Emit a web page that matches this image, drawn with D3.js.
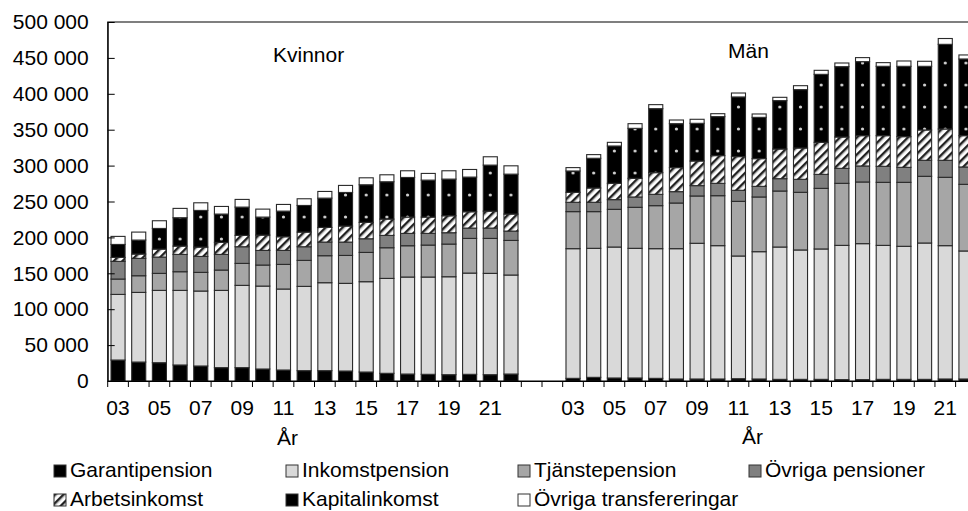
<!DOCTYPE html>
<html>
<head>
<meta charset="utf-8">
<script src="https://cdn.jsdelivr.net/npm/d3@7"></script>
<style>
body { margin: 0; background: #fff; }
text { font-family: "Liberation Sans", Arial, sans-serif; fill: #000; }
</style>
</head>
<body>
<script>

var width = 968,
    height = 511;

var years = ["03","04","05","06","07","08","09","10","11","12","13","14","15","16","17","18","19","20","21","22"];
var labelYears = ["03","05","07","09","11","13","15","17","19","21"];
var seriesNames = ["Garantipension","Inkomstpension","Tjänstepension","Övriga pensioner","Arbetsinkomst","Kapitalinkomst","Övriga transfereringar"];
var yTicks = [0,50000,100000,150000,200000,250000,300000,350000,400000,450000,500000];

// Kvinnor
var garantiK   = [29200,26400,25500,22300,20900,18600,18600,16700,15300,14400,14400,13900,12500,10700,9700,9300,8800,9300,8800,9700];
var inkomstK   = [91400,97000,100700,103900,104400,107600,114600,115500,112800,117400,122500,122100,125800,132200,135100,135500,136400,141000,141100,137900];
var tjanstK    = [21400,23200,23700,26000,26000,28300,30600,29300,34300,36200,37600,38900,40800,42700,43600,44500,45500,48300,48700,48200];
var ovrPensK   = [24600,24200,22700,24100,22200,21800,23200,20400,19500,19000,19000,18600,19000,17200,17200,16300,15800,14400,14400,13000];
var arbetK     = [5500,6000,11100,11600,13000,16700,15800,21300,19000,20400,20400,22300,22800,22700,22700,22700,23600,22700,23600,23700];
var kapitalK   = [18100,19500,28800,39500,51100,39500,39400,25100,35700,37100,40800,46800,52400,52000,55200,51500,51100,48300,64100,55600];
var ovrTransK  = [11200,11100,10700,13000,10600,10600,10700,11100,9300,9300,9300,9800,9700,9700,9300,9300,11600,10600,11600,11600];

// Män
var garantiM   = [3700,5100,4200,4200,3700,2800,2800,2800,3200,2800,2300,2300,2300,1900,1900,2300,2300,2300,2800,2800];
var inkomstM   = [180600,179700,182400,180600,180600,181500,189000,185700,170900,177300,184300,180200,181600,187000,189400,186600,185300,189900,185700,178300];
var tjanstM    = [51600,51100,52500,57100,59900,63600,65900,69600,76100,76200,78000,80300,84400,86400,85900,87800,89100,92900,95200,92800];
var ovrPensM   = [13000,13000,13500,14400,15800,15800,14400,17200,15400,14800,17200,18100,19500,20900,22300,22300,20900,22300,23700,24200];
var arbetM     = [13900,19900,22700,26000,30200,33500,34300,38600,46900,38600,41300,43600,44600,43600,42200,42700,42700,42200,43600,43600];
var kapitalM   = [29700,41400,52000,69600,89100,61200,52500,54300,83100,57500,67400,81300,94700,98000,103100,96600,98000,88700,117900,106800];
var ovrTransM  = [4700,5100,5100,6500,5600,5100,5600,4100,5500,4700,4600,5500,5600,5100,5600,5100,7400,7000,8100,5600];

var seriesK = [garantiK, inkomstK, tjanstK, ovrPensK, arbetK, kapitalK, ovrTransK];
var seriesM = [garantiM, inkomstM, tjanstM, ovrPensM, arbetM, kapitalM, ovrTransM];
var keys = ["s0","s1","s2","s3","s4","s5","s6"];
var fills = ["#000000","#d9d9d9","#a6a6a6","#808080","url(#hatch)","url(#dots)","#ffffff"];

// rows: 20 women, 2 empty slots, 20 men
var rows = [];
years.forEach(function(yr, i) {
  var r = {cat: "K" + yr, label: yr};
  keys.forEach(function(k, j) { r[k] = seriesK[j][i]; });
  rows.push(r);
});
rows.push({cat: "gap1", label: ""});
rows.push({cat: "gap2", label: ""});
years.forEach(function(yr, i) {
  var r = {cat: "M" + yr, label: yr};
  keys.forEach(function(k, j) { r[k] = seriesM[j][i]; });
  rows.push(r);
});
var barRows = rows.filter(function(d) { return d.cat.indexOf("gap") !== 0; });

var plotLeft = 107.7, plotRight = 976.3, plotTop = 22, plotBottom = 381;

var x = d3.scaleBand()
  .domain(rows.map(function(d) { return d.cat; }))
  .range([plotLeft, plotRight])
  .paddingInner(0.32)
  .paddingOuter(0.16);

var y = d3.scaleLinear()
  .domain([0, 500000])
  .range([plotBottom, plotTop]);

var svg = d3.select("body").append("svg")
    .attr("width", width)
    .attr("height", height)
    .style("background", "#fff");

var defs = svg.append("defs");

// diagonal stripes for Arbetsinkomst
var hatch = defs.append("pattern")
  .attr("id", "hatch")
  .attr("patternUnits", "userSpaceOnUse")
  .attr("width", 6)
  .attr("height", 6)
  .attr("patternTransform", "rotate(45)");
hatch.append("rect").attr("width", 6).attr("height", 6).attr("fill", "#fff");
hatch.append("rect").attr("width", 2.4).attr("height", 6).attr("fill", "#222");
hatch.append("rect").attr("x", 2.4).attr("width", 0.8).attr("height", 6).attr("fill", "#999");

// black with light dots for Kapitalinkomst
var step = x.step();
var dots = defs.append("pattern")
  .attr("id", "dots")
  .attr("patternUnits", "userSpaceOnUse")
  .attr("x", x(rows[0].cat) + x.bandwidth() / 2 - step / 2)
  .attr("y", 8)
  .attr("width", step)
  .attr("height", 22);
dots.append("rect").attr("width", step).attr("height", 22).attr("fill", "#000");
dots.append("circle").attr("cx", step / 2).attr("cy", 11).attr("r", 1.6).attr("fill", "#d0d0d0");

var stack = d3.stack().keys(keys);
var stacked = stack(barRows);

// bars
svg.append("g").selectAll("g")
  .data(stacked)
  .enter().append("g")
    .attr("fill", function(d, i) { return fills[i]; })
  .selectAll("rect")
  .data(function(d) { return d; })
  .enter().append("rect")
    .attr("x", function(d) { return x(d.data.cat); })
    .attr("y", function(d) { return y(d[1]); })
    .attr("width", x.bandwidth())
    .attr("height", function(d) { return y(d[0]) - y(d[1]); })
    .attr("stroke", "#2a2a2a")
    .attr("stroke-width", 1.1);

// frame
svg.append("rect")
  .attr("x", plotLeft)
  .attr("y", plotTop)
  .attr("width", plotRight - plotLeft)
  .attr("height", plotBottom - plotTop)
  .attr("fill", "none")
  .attr("stroke", "#000")
  .attr("stroke-width", 1);

// y axis
var yAxis = svg.append("g")
  .attr("transform", "translate(" + plotLeft + ",0)")
  .call(d3.axisLeft(y)
    .tickValues(yTicks)
    .tickSize(-7)
    .tickSizeOuter(0)
    .tickPadding(19)
    .tickFormat(function(d) { return d3.format(",")(d).replace(/,/g, " "); }));
yAxis.select(".domain").attr("stroke", "#000");
yAxis.selectAll("text").attr("font-size", 21).attr("font-family", "Liberation Sans, Arial, sans-serif");

// x axis labels
var xAxis = svg.append("g")
  .attr("transform", "translate(0," + plotBottom + ")")
  .call(d3.axisBottom(x)
    .tickValues(rows.filter(function(d) { return labelYears.indexOf(d.label) >= 0; }).map(function(d) { return d.cat; }))
    .tickFormat(function(c) { return c.slice(1); })
    .tickSize(0)
    .tickPadding(19));
xAxis.select(".domain").attr("stroke", "#000");
xAxis.selectAll("text").attr("font-size", 21).attr("font-family", "Liberation Sans, Arial, sans-serif");

// category boundary ticks
var bounds = rows.map(function(d) { return x(d.cat) - (step - x.bandwidth()) / 2; });
bounds.push(plotRight);
svg.append("g").selectAll("line")
  .data(bounds)
  .enter().append("line")
    .attr("x1", function(d) { return d; })
    .attr("x2", function(d) { return d; })
    .attr("y1", plotBottom)
    .attr("y2", plotBottom + 6)
    .attr("stroke", "#000");

// group titles and axis titles
svg.append("text").attr("x", 273).attr("y", 62).attr("font-size", 21).text("Kvinnor");
svg.append("text").attr("x", 728).attr("y", 58).attr("font-size", 21).text("Män");
svg.append("text").attr("x", 277).attr("y", 445).attr("font-size", 21).text("År");
svg.append("text").attr("x", 742).attr("y", 444).attr("font-size", 21).text("År");

// legend
var legendX = [54, 286, 518, 749];
var legendY = [465, 494];
var legend = svg.append("g").selectAll("g")
  .data(seriesNames)
  .enter().append("g")
    .attr("transform", function(d, i) {
      return "translate(" + legendX[i % 4] + "," + legendY[Math.floor(i / 4)] + ")";
    });
legend.append("rect")
  .attr("width", 12)
  .attr("height", 12)
  .attr("fill", function(d, i) { return i === 5 ? "#000" : fills[i]; })
  .attr("stroke", "#333")
  .attr("stroke-width", 1);
legend.append("text")
  .attr("x", 16)
  .attr("y", 12)
  .attr("font-size", 21)
  .text(function(d) { return d; });

</script>
</body>
</html>
